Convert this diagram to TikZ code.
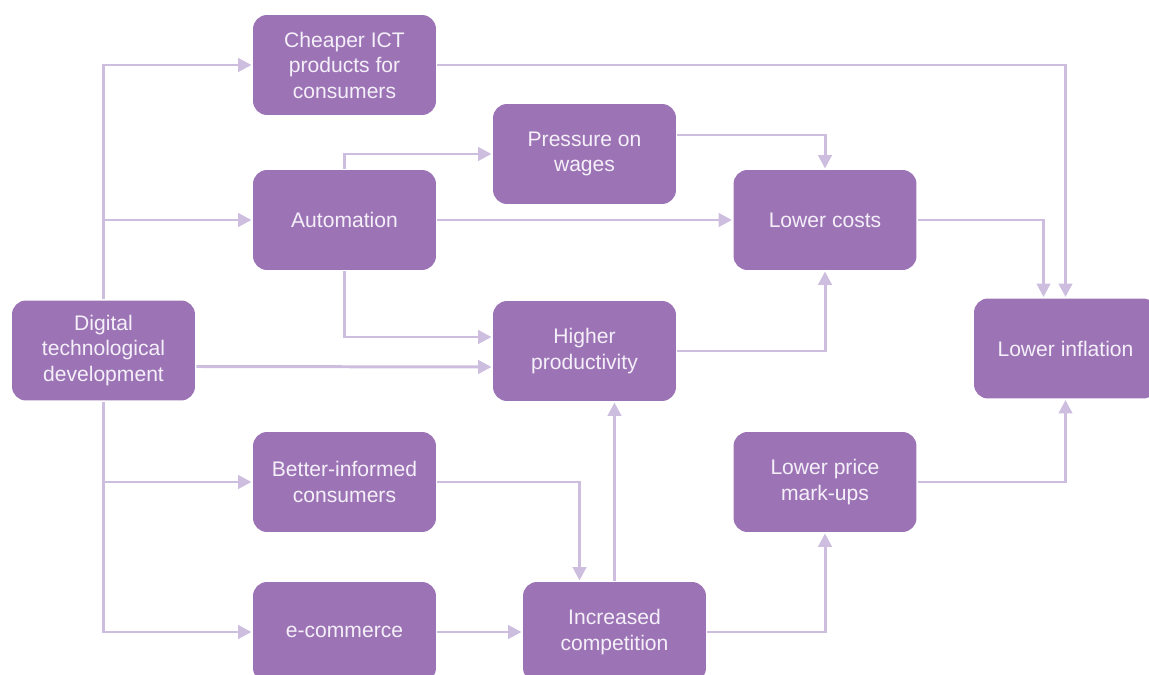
\documentclass[tikz,border=0pt]{standalone}
\usepackage{fontspec}
\setmainfont{Liberation Sans}
\usetikzlibrary{arrows.meta,positioning}
\definecolor{boxfill}{HTML}{9C74B6}
\definecolor{linkcol}{HTML}{CDBEE0}
\definecolor{boxtext}{HTML}{F4EFF8}
\begin{document}
\begin{tikzpicture}[x=0.02cm, y=-0.02cm, ->, >={Triangle[length=0.27cm,width=0.27cm]},
    line width=1.7pt, draw=linkcol,
    box/.style={rectangle, rounded corners=0.28cm, fill=boxfill, draw=none,
      minimum width=3.66cm, minimum height=2cm, align=center, text=boxtext,
      font=\fontsize{12}{14.5}\selectfont}]
      \clip (0,0) rectangle (1149,675);
      \node [box] (dig) at (103.5,350.5) {Digital\\technological\\development};
      \node [box] (ict) at (344.5,65) {Cheaper ICT\\products for\\consumers};
      \node [box] (auto) at (344.5,220) {Automation};
      \node [box] (wage) at (584.5,154) {Pressure on\\wages};
      \node [box] (cost) at (825,220) {Lower costs};
      \node [box] (prod) at (584.5,351) {Higher\\productivity};
      \node [box] (infl) at (1065.5,348.5) {Lower inflation};
      \node [box] (info) at (344.5,482) {Better-informed\\consumers};
      \node [box] (markup) at (825,482) {Lower price\\mark-ups};
      \node [box] (ecom) at (344.5,632) {e-commerce};
      \node [box] (comp) at (614.5,632) {Increased\\competition};
      \draw (dig.north) |- (ict.west);
      \draw (dig.north) |- (auto.west);
      \draw (dig.south) |- (info.west);
      \draw (dig.south) |- (ecom.west);
      \draw ([yshift=-0.32cm]dig.east) -- ([yshift=-0.32cm]prod.west);
      \draw (auto.north) |- (wage.west);
      \draw (auto.south) |- ([yshift=0.28cm]prod.west);
      \path (auto) edge (cost)
            (ecom) edge (comp);
      \draw ([yshift=0.38cm]wage.east) -| (cost.north);
      \draw (prod.east) -| (cost.south);
      \draw (cost.east) -| ([xshift=-0.44cm]infl.north);
      \draw (ict.east) -| (infl.north);
      \draw (markup.east) -| (infl.south);
      \draw (info.east) -| ([xshift=-0.7cm]comp.north);
      \draw (comp.north) -- (comp.north |- prod.south);
      \draw (comp.east) -| (markup.south);
\end{tikzpicture}
\end{document}
